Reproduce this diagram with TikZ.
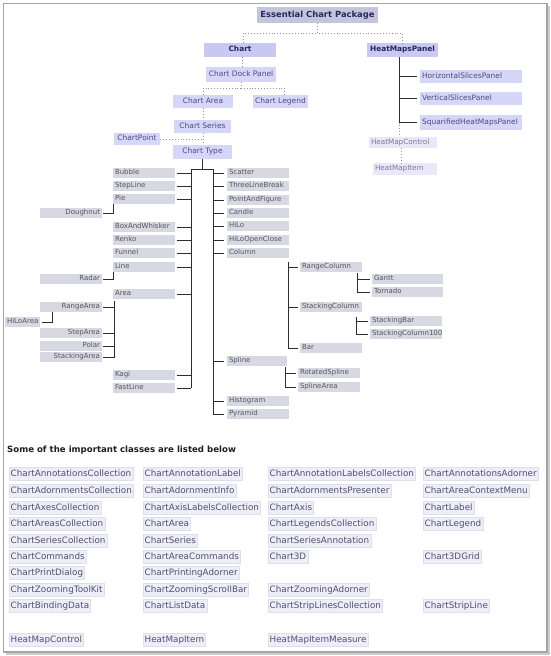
\documentclass[tikz,border=0pt]{standalone}
\usepackage{fontspec}
\setmainfont{DejaVu Sans}
\definecolor{cEcp}{RGB}{196,196,222}
\definecolor{cTopB}{RGB}{200,200,242}
\definecolor{cTop}{RGB}{214,214,248}
\definecolor{cLight}{RGB}{232,232,248}
\definecolor{cItem}{RGB}{216,216,226}
\definecolor{cTxtB}{RGB}{40,40,90}
\definecolor{cTxtT}{RGB}{75,75,130}
\definecolor{cTxtL}{RGB}{120,120,155}
\definecolor{cTxtI}{RGB}{85,85,95}
\definecolor{cCls}{RGB}{238,238,248}
\definecolor{cClsB}{RGB}{222,222,236}
\definecolor{cTxtC}{RGB}{80,80,110}
\definecolor{cLine}{RGB}{45,45,45}
\definecolor{cDot}{RGB}{150,150,150}
\definecolor{cFrame}{RGB}{165,165,165}
\definecolor{cShadow}{RGB}{205,205,205}
\definecolor{cTitle}{RGB}{30,30,30}
\newcommand\bxc[7]{%
 \pgfmathsetmacro\bxW{(#5)-(#3)}%
 \pgfmathsetmacro\bxH{(#6)-(#4)}%
 \pgfmathsetmacro\bxX{((#3)+(#5))/2}%
 \pgfmathsetmacro\bxY{((#4)+(#6))/2}%
 \node[#1, minimum width=\bxW pt, minimum height=\bxH pt] (#2) at (\bxX,\bxY) {#7};}
\newcommand\bxa[7]{%
 \pgfmathsetmacro\bxW{(#5)-(#3)}%
 \pgfmathsetmacro\bxH{(#6)-(#4)}%
 \pgfmathsetmacro\bxX{((#3)+(#5))/2}%
 \pgfmathsetmacro\bxY{((#4)+(#6))/2}%
 \pgfmathsetmacro\bxT{(#5)-(#3)-4}%
 \node[#1, minimum width=\bxW pt, minimum height=\bxH pt, text width=\bxT pt] (#2) at (\bxX,\bxY) {#7};}
\newcommand\ti[6]{\bxa{#1}{#2}{#3}{(#5)-5}{#4}{(#5)+5}{#6}}
\tikzset{
 basebox/.style={inner xsep=2pt, inner ysep=0pt, text height=5.2pt, text depth=1.4pt},
 ecpbox/.style={basebox, fill=cEcp, text=cTxtB, font=\fontsize{8.4}{9}\selectfont\bfseries, align=center, text height=6pt, text depth=1.7pt},
 topbold/.style={basebox, fill=cTopB, text=cTxtB, font=\fontsize{7.4}{8}\selectfont\bfseries, align=center},
 topbox/.style={basebox, fill=cTop, text=cTxtT, font=\fontsize{7.5}{8}\selectfont, align=center},
 hmbox/.style={basebox, fill=cTop, text=cTxtT, font=\fontsize{7.5}{8}\selectfont, align=left},
 lightbox/.style={basebox, fill=cLight, text=cTxtL, font=\fontsize{7.2}{8}\selectfont, align=left},
 itemL/.style={basebox, fill=cItem, text=cTxtI, font=\fontsize{7}{8}\selectfont, align=left},
 itemR/.style={itemL, align=right},
 cls/.style={draw=cClsB, line width=0.4pt, fill=cCls, text=cTxtC, font=\fontsize{8.8}{10}\selectfont, inner xsep=1.5pt, inner ysep=0pt, minimum height=13pt, text height=6.6pt, text depth=1.9pt, anchor=west},
 tline/.style={draw=cLine, line width=0.8pt},
 dline/.style={draw=cDot, line width=0.9pt, dotted},
}
\begin{document}
\begin{tikzpicture}[x=1pt,y=-1pt]
\useasboundingbox (0,0) rectangle (551,656);
\fill[white] (0,0) rectangle (551,656);
\draw[cShadow, line width=1.6pt] (549,6) -- (549,654) -- (6,654);
\draw[cFrame, line width=1.3pt] (3.5,3.5) rectangle (547,652);

% top part
\bxc{ecpbox}{ecp}{257}{7}{378}{23}{Essential Chart Package}
\bxc{topbold}{chart}{204}{43}{276}{57}{Chart}
\bxc{topbold}{hmp}{367}{43}{438}{57}{HeatMapsPanel}
\bxc{topbox}{cdp}{206}{67}{276}{82}{Chart Dock Panel}
\bxc{topbox}{carea}{173}{95}{233}{108}{Chart Area}
\bxc{topbox}{clegend}{253}{95}{308}{108}{Chart Legend}
\bxc{topbox}{cseries}{174}{120}{231}{133}{Chart Series}
\bxc{topbox}{cpoint}{114}{133}{160}{145}{ChartPoint}
\bxc{topbox}{ctype}{173}{145}{232}{159}{Chart Type}
\bxa{hmbox}{hsp}{420}{70}{522}{83}{HorizontalSlicesPanel}
\bxa{hmbox}{vsp}{420}{92}{522}{105}{VerticalSlicesPanel}
\bxa{hmbox}{sqp}{420}{115}{522}{130}{SquarifiedHeatMapsPanel}
\bxa{lightbox}{hmc}{369}{137}{437}{148}{HeatMapControl}
\bxa{lightbox}{hmi}{373}{163}{437}{175}{HeatMapItem}

\draw[dline] (ecp.south) -- ++(0,10) -| ([xshift=3pt]chart.north);
\draw[dline] (ecp.south) -- ++(0,10) -| (hmp.north);
\draw[dline] ([xshift=2pt]chart.south) -- ([xshift=2pt]chart.south |- cdp.north);
\draw[dline] (cdp.south) -- ++(0,6) -| (carea.north);
\draw[dline] (cdp.south) -- ++(0,6) -| ([xshift=4pt]clegend.north);
\draw[dline] (carea.south) -- (carea.south |- cseries.north);
\draw[dline] (carea.south |- cseries.south) -- (carea.south |- ctype.north);
\draw[dline] (cpoint.east) -- (cpoint.east -| carea.south);

\coordinate (hv) at (399,57);
\draw[tline] (hv) |- ([xshift=-3pt]sqp.west);
\draw[tline] (hv |- hsp.west) -- ([xshift=-3pt]hsp.west);
\draw[tline] (hv |- vsp.west) -- ([xshift=-3pt]vsp.west);
\draw[dline] (hv |- sqp.west) -- (hv |- hmc.north);
\draw[dline] ([xshift=-2pt]hmc.south) -- ([xshift=-2pt]hmc.south |- hmi.north);

% chart types, left column
\ti{itemL}{bubble}{113}{175}{173}{Bubble}
\ti{itemL}{stepline}{113}{175}{186}{StepLine}
\ti{itemL}{pie}{113}{175}{199}{Pie}
\ti{itemL}{boxw}{113}{175}{227}{BoxAndWhisker}
\ti{itemL}{renko}{113}{175}{240}{Renko}
\ti{itemL}{funnel}{113}{175}{253}{Funnel}
\ti{itemL}{lineit}{113}{175}{267}{Line}
\ti{itemL}{area}{113}{175}{294}{Area}
\ti{itemL}{kagi}{113}{175}{375}{Kagi}
\ti{itemL}{fastline}{113}{175}{388}{FastLine}
% sub items on the left
\ti{itemR}{doughnut}{40}{102}{213}{Doughnut}
\ti{itemR}{radar}{40}{102}{279}{Radar}
\ti{itemR}{rangearea}{40}{102}{307}{RangeArea}
\ti{itemR}{steparea}{40}{102}{333}{StepArea}
\ti{itemR}{polar}{40}{102}{346}{Polar}
\ti{itemR}{stackarea}{40}{102}{357}{StackingArea}
\bxa{itemL, inner xsep=1pt}{hiloarea}{5}{317}{40}{327}{HiLoArea}
% right column
\ti{itemL}{scatter}{227}{289}{173}{Scatter}
\ti{itemL}{tlb}{227}{289}{186}{ThreeLineBreak}
\ti{itemL}{paf}{227}{289}{200}{PointAndFigure}
\ti{itemL}{candle}{227}{289}{213}{Candle}
\ti{itemL}{hilo}{227}{289}{226}{HiLo}
\ti{itemL}{hloc}{227}{289}{240}{HiLoOpenClose}
\ti{itemL}{column}{227}{289}{253}{Column}
\ti{itemL}{spline}{227}{287}{361}{Spline}
\ti{itemL}{histogram}{227}{289}{401}{Histogram}
\ti{itemL}{pyramid}{227}{289}{414}{Pyramid}
% column / spline sub items
\ti{itemL}{rangecol}{300}{362}{267}{RangeColumn}
\ti{itemL}{stackcol}{300}{362}{307}{StackingColumn}
\ti{itemL}{bar}{300}{362}{348}{Bar}
\ti{itemL}{gantt}{372}{443}{279}{Gantt}
\ti{itemL}{tornado}{372}{443}{292}{Tornado}
\ti{itemL}{stackbar}{370}{442}{321}{StackingBar}
\ti{itemL}{sc100}{370}{442}{334}{StackingColumn100}
\ti{itemL}{rotspline}{298}{360}{373}{RotatedSpline}
\ti{itemL}{splinearea}{298}{360}{387}{SplineArea}

% tree lines
\coordinate (tl) at (191,169);
\coordinate (tr) at (213,169);
\draw[tline] (ctype.south) -- (ctype.south |- tl);
\draw[tline] (tl) -- (tr);
\draw[tline] (tl) -- (tl |- fastline.east);
\draw[tline] (tr) -- (tr |- pyramid.west);
\foreach \n in {bubble,stepline,pie,boxw,renko,funnel,lineit,area,kagi,fastline}
  \draw[tline] ([xshift=2pt]\n.east) -- (\n.east -| tl);
\foreach \n in {scatter,tlb,paf,candle,hilo,hloc,column,spline,histogram,pyramid}
  \draw[tline] (\n.west -| tr) -- ([xshift=-3pt]\n.west);
\draw[tline] ([xshift=1pt]doughnut.east) -| ([xshift=1pt]pie.south west);
\draw[tline] ([xshift=1pt]radar.east) -| ([xshift=1pt]lineit.south west);
\coordinate (av) at ([xshift=2pt,yshift=-2pt]area.south west);
\draw[tline] (av) |- ([xshift=1pt]stackarea.east);
\foreach \n in {rangearea,steparea,polar}
  \draw[tline] (av |- \n.east) -- ([xshift=1pt]\n.east);
\draw[tline] ([xshift=2pt]hiloarea.east) -| ([xshift=13pt]rangearea.south west);
\coordinate (cv) at ([xshift=-1pt,yshift=-4pt]column.south east);
\draw[tline] (cv) |- ([xshift=-2pt]bar.west);
\foreach \n in {rangecol,stackcol}
  \draw[tline] (cv |- \n.west) -- ([xshift=-2pt]\n.west);
\coordinate (rv) at ([xshift=-5pt,yshift=-1pt]rangecol.south east);
\draw[tline] (rv) |- ([xshift=-2pt]tornado.west);
\draw[tline] (rv |- gantt.west) -- ([xshift=-2pt]gantt.west);
\coordinate (sv) at ([xshift=-6pt,yshift=-5pt]stackcol.south east);
\draw[tline] (sv) |- ([xshift=-2pt]sc100.west);
\draw[tline] (sv |- stackbar.west) -- ([xshift=-2pt]stackbar.west);
\coordinate (pv) at ([xshift=-2pt,yshift=-1pt]spline.south east);
\draw[tline] (pv) |- ([xshift=-2pt]splinearea.west);
\draw[tline] (pv |- rotspline.west) -- ([xshift=-2pt]rotspline.west);

% list of classes
\node[anchor=west, font=\fontsize{8.6}{10}\selectfont\bfseries, text=cTitle, inner sep=0pt] (title) at (7,450) {Some of the important classes are listed below};

\node[cls] (k1a) at (9,474) {ChartAnnotationsCollection};
\node[cls] (k1b) at (9,491) {ChartAdornmentsCollection};
\node[cls] (k1c) at (9,508) {ChartAxesCollection};
\node[cls] (k1d) at (9,524) {ChartAreasCollection};
\node[cls] (k1e) at (9,541) {ChartSeriesCollection};
\node[cls] (k1f) at (9,557) {ChartCommands};
\node[cls] (k1g) at (9,573) {ChartPrintDialog};
\node[cls] (k1h) at (9,590) {ChartZoomingToolKit};
\node[cls] (k1i) at (9,606) {ChartBindingData};
\node[cls] (k1j) at (9,640) {HeatMapControl};

\node[cls] (k2a) at (143,474) {ChartAnnotationLabel};
\node[cls] (k2b) at (143,491) {ChartAdornmentInfo};
\node[cls] (k2c) at (143,508) {ChartAxisLabelsCollection};
\node[cls] (k2d) at (143,524) {ChartArea};
\node[cls] (k2e) at (143,541) {ChartSeries};
\node[cls] (k2f) at (143,557) {ChartAreaCommands};
\node[cls] (k2g) at (143,573) {ChartPrintingAdorner};
\node[cls] (k2h) at (143,590) {ChartZoomingScrollBar};
\node[cls] (k2i) at (143,606) {ChartListData};
\node[cls] (k2j) at (143,640) {HeatMapItem};

\node[cls] (k3a) at (268,474) {ChartAnnotationLabelsCollection};
\node[cls] (k3b) at (268,491) {ChartAdornmentsPresenter};
\node[cls] (k3c) at (268,508) {ChartAxis};
\node[cls] (k3d) at (268,524) {ChartLegendsCollection};
\node[cls] (k3e) at (268,541) {ChartSeriesAnnotation};
\node[cls] (k3f) at (268,557) {Chart3D};
\node[cls] (k3h) at (268,590) {ChartZoomingAdorner};
\node[cls] (k3i) at (268,606) {ChartStripLinesCollection};
\node[cls] (k3j) at (268,640) {HeatMapItemMeasure};

\node[cls] (k4a) at (423,474) {ChartAnnotationsAdorner};
\node[cls] (k4b) at (423,491) {ChartAreaContextMenu};
\node[cls] (k4c) at (423,508) {ChartLabel};
\node[cls] (k4d) at (423,524) {ChartLegend};
\node[cls] (k4f) at (423,557) {Chart3DGrid};
\node[cls] (k4i) at (423,606) {ChartStripLine};
\end{tikzpicture}
\end{document}
